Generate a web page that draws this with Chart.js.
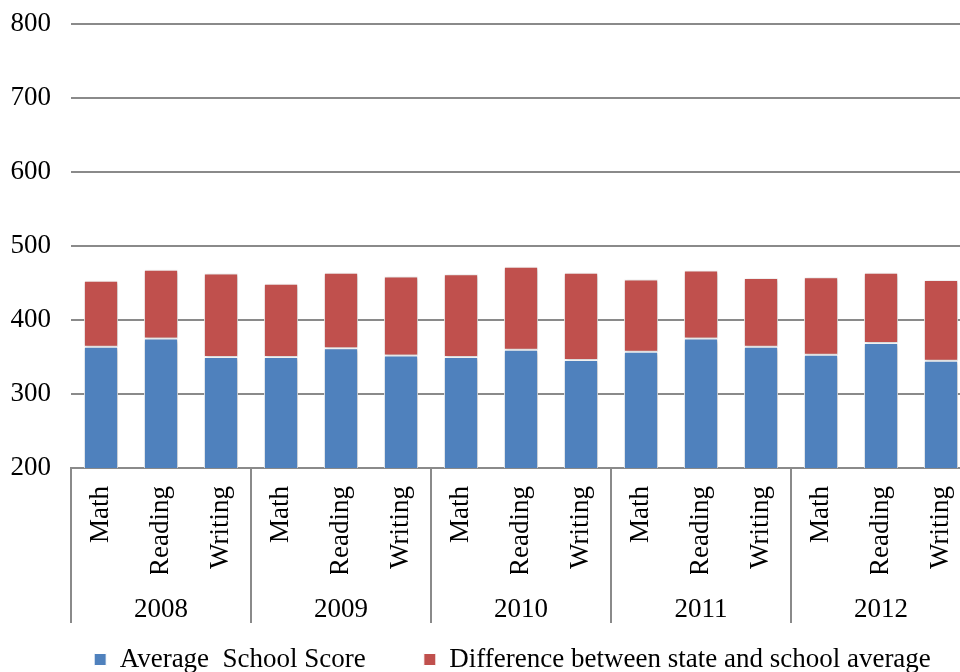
<!DOCTYPE html>
<html>
<head>
<meta charset="utf-8">
<script src="https://cdn.jsdelivr.net/npm/chart.js@4/dist/chart.umd.min.js"></script>
<style>
  html, body { margin: 0; padding: 0; background: #fff; overflow: hidden; }
  #wrap { width: 1025px; height: 695px; margin-top: -12px; position: relative; }
</style>
</head>
<body>
<div id="wrap"><canvas id="scores"></canvas></div>
<script>
// DATA
const subjects = ['Math', 'Reading', 'Writing', 'Math', 'Reading', 'Writing', 'Math', 'Reading', 'Writing',
                  'Math', 'Reading', 'Writing', 'Math', 'Reading', 'Writing'];
const years = ['2008', '2009', '2010', '2011', '2012'];
const schoolScore = [364, 375, 350, 350, 362, 352, 350, 360, 346, 357, 375, 364, 353, 369, 345];
const stateDiff = [89, 93, 113, 99, 102, 107, 112, 112, 118, 98, 92, 93, 105, 95, 109];
const yTicks = [200, 300, 400, 500, 600, 700, 800];

const serif = 'Liberation Serif';
const gridGrey = '#8a8a8a';
const fontSize = 27;

// group separators under the axis
const separators = {
    id: 'separators',
    afterDraw(chart) {
        let x = chart.scales.x;
        let half = (x.getPixelForValue(1) - x.getPixelForValue(0)) / 2;
        let ctx = chart.ctx;
        ctx.save();
        ctx.strokeStyle = gridGrey;
        ctx.lineWidth = 2;
        for (let i = 0; i <= subjects.length; i += 3) {
            let px = Math.round(x.getPixelForValue(i) - half);
            ctx.beginPath();
            ctx.moveTo(px, x.top);
            ctx.lineTo(px, x.bottom + 49);
            ctx.stroke();
        }
        ctx.restore();
    }
};

// soft shadow around bars
const barShadow = {
    id: 'barShadow',
    beforeDatasetsDraw(chart) {
        let ctx = chart.ctx;
        ctx.save();
        ctx.shadowColor = 'rgba(0,0,0,0.25)';
        ctx.shadowBlur = 4;
        ctx.shadowOffsetX = 1;
        ctx.shadowOffsetY = 1;
    },
    afterDatasetsDraw(chart) {
        chart.ctx.restore();
    }
};

let ctx = document.getElementById('scores').getContext('2d');
let myChart = new Chart(ctx, {
    type: 'bar',
    data: {
        labels: subjects,
        datasets: [{
            label: 'Average  School Score',
            data: schoolScore,
            backgroundColor: '#4F81BD',
            borderColor: '#ffffff',
            borderWidth: 1,
            borderSkipped: false
        }, {
            label: 'Difference between state and school average',
            data: stateDiff,
            backgroundColor: '#C0504D',
            borderColor: '#ffffff',
            borderWidth: 1,
            borderSkipped: false
        }]
    },
    options: {
        responsive: true,
        maintainAspectRatio: false,
        animation: false,
        datasets: {
            bar: { barPercentage: 0.57, categoryPercentage: 1 }
        },
        plugins: {
            legend: {
                position: 'bottom',
                labels: {
                    font: { family: serif, size: fontSize },
                    color: '#000',
                    boxWidth: 12,
                    boxHeight: 12,
                    padding: 58
                }
            },
            tooltip: { enabled: false }
        },
        scales: {
            x: {
                stacked: true,
                weight: 0,
                grid: { display: false, drawTicks: false },
                border: { display: true, color: gridGrey, width: 2 },
                ticks: {
                    font: { family: serif, size: fontSize },
                    color: '#000',
                    minRotation: 90,
                    maxRotation: 90,
                    padding: 18,
                    autoSkip: false
                },
                afterFit(scale) { scale.height = 106; }
            },
            // year row; mirrored so its labels may sit in the legend's top gap
            x2: {
                type: 'category',
                position: 'bottom',
                labels: years,
                offset: true,
                weight: 1,
                grid: { display: false, drawTicks: false },
                border: { display: false },
                ticks: {
                    font: { family: serif, size: fontSize },
                    color: '#000',
                    mirror: true,
                    padding: -52
                },
                afterFit(scale) { scale.height = 14; }
            },
            y: {
                stacked: true,
                min: yTicks[0],
                max: yTicks[yTicks.length - 1],
                grid: { color: gridGrey, lineWidth: 2, drawTicks: false },
                border: { display: false },
                ticks: {
                    stepSize: 100,
                    font: { family: serif, size: fontSize },
                    color: '#000',
                    padding: 20
                },
                afterFit(scale) { scale.width = 71; }
            },
            // empty right axis: keeps room on the right, legend stays centred on the full width
            yRight: {
                position: 'right',
                display: true,
                grid: { display: false, drawTicks: false },
                border: { display: false },
                ticks: { display: false },
                afterFit(scale) { scale.width = 54; }
            }
        }
    },
    plugins: [separators, barShadow]
});
</script>
</body>
</html>
